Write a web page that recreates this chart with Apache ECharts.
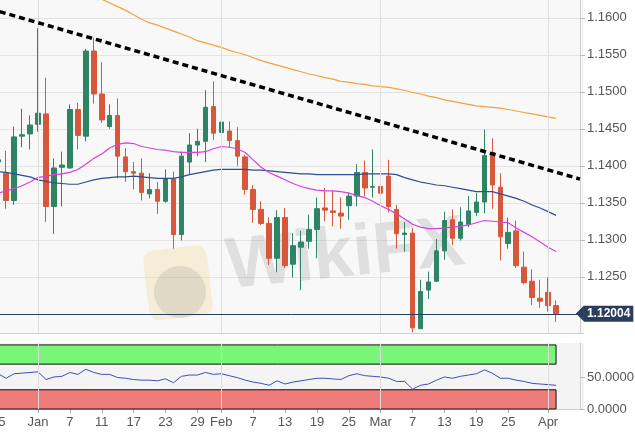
<!DOCTYPE html>
<html><head><meta charset="utf-8">
<script src="https://cdn.jsdelivr.net/npm/echarts@6/dist/echarts.min.js"></script>
<style>html,body{margin:0;padding:0;background:#fff}#c{width:635px;height:432px}</style>
</head><body><div id="c"></div>
<script>
// ---- data ----
const dates = ['2018-12-24','2018-12-25','2018-12-26','2018-12-27','2018-12-28','2018-12-31',
 '2019-01-01','2019-01-02','2019-01-03','2019-01-04','2019-01-07','2019-01-08','2019-01-09','2019-01-10','2019-01-11',
 '2019-01-14','2019-01-15','2019-01-16','2019-01-17','2019-01-18','2019-01-21','2019-01-22','2019-01-23','2019-01-24','2019-01-25',
 '2019-01-28','2019-01-29','2019-01-30','2019-01-31','2019-02-01','2019-02-04','2019-02-05','2019-02-06','2019-02-07','2019-02-08',
 '2019-02-11','2019-02-12','2019-02-13','2019-02-14','2019-02-15','2019-02-18','2019-02-19','2019-02-20','2019-02-21','2019-02-22',
 '2019-02-25','2019-02-26','2019-02-27','2019-02-28','2019-03-01','2019-03-04','2019-03-05','2019-03-06','2019-03-07','2019-03-08',
 '2019-03-11','2019-03-12','2019-03-13','2019-03-14','2019-03-15','2019-03-18','2019-03-19','2019-03-20','2019-03-21','2019-03-22',
 '2019-03-25','2019-03-26','2019-03-27','2019-03-28','2019-03-29','2019-04-01','2019-04-02'];
const futureDates = ['2019-04-03','2019-04-04','2019-04-05'];

const open = [1.1372,1.1405,1.1390,1.1353,1.1440,1.1443,
 1.1456,1.1470,1.1345,1.1398,1.1397,1.1476,1.1440,1.1555,1.1497,
 1.1453,1.1468,1.1412,1.1392,1.1390,1.1362,1.1368,1.1352,1.1382,1.1307,
 1.1405,1.1428,1.1433,1.1480,1.1445,1.1447,1.1434,1.1412,1.1368,1.1341,
 1.1322,1.1275,1.1330,1.1267,1.1290,1.1298,1.1314,1.1343,1.1339,1.1336,
 1.1346,1.1359,1.1391,1.1371,1.1372,1.1386,1.1341,1.1307,1.1309,1.1180,
 1.1232,1.1244,1.1285,1.1327,1.1302,1.1321,1.1337,1.1351,1.1418,1.1371,
 1.1295,1.1312,1.1263,1.1244,1.1221,1.1229,1.1211];
const high = [1.1415,1.1412,1.1420,1.1453,1.1477,1.1468,
 1.1586,1.1519,1.1410,1.1419,1.1483,1.1485,1.1558,1.1573,1.1540,
 1.1483,1.1491,1.1424,1.1405,1.1410,1.1390,1.1378,1.1395,1.1392,1.1419,
 1.1444,1.1450,1.1502,1.1514,1.1487,1.1460,1.1452,1.1415,1.1374,1.1352,
 1.1330,1.1340,1.1343,1.1309,1.1312,1.1334,1.1357,1.1370,1.1366,1.1357,
 1.1364,1.1402,1.1407,1.1422,1.1408,1.1408,1.1347,1.1324,1.1316,1.1246,
 1.1257,1.1301,1.1338,1.1341,1.1344,1.1359,1.1363,1.1449,1.1437,1.1390,
 1.1330,1.1326,1.1284,1.1260,1.1246,1.1249,1.1218];
const low = [1.1365,1.1400,1.1342,1.1347,1.1425,1.1422,
 1.1446,1.1324,1.1308,1.1345,1.1396,1.1422,1.1433,1.1484,1.1458,
 1.1450,1.1383,1.1378,1.1368,1.1353,1.1356,1.1335,1.1350,1.1288,1.1299,
 1.1389,1.1413,1.1405,1.1435,1.1435,1.1424,1.1400,1.1361,1.1323,1.1320,
 1.1266,1.1256,1.1262,1.1249,1.1232,1.1288,1.1275,1.1325,1.1318,1.1315,
 1.1327,1.1345,1.1359,1.1357,1.1352,1.1337,1.1288,1.1284,1.1175,1.1179,
 1.1220,1.1243,1.1273,1.1293,1.1299,1.1317,1.1332,1.1336,1.1342,1.1272,
 1.1288,1.1262,1.1240,1.1212,1.1208,1.1203,1.1189];
const close = [1.1405,1.1408,1.1353,1.1439,1.1442,1.1455,
 1.1471,1.1345,1.1397,1.1401,1.1476,1.1441,1.1555,1.1497,1.1462,
 1.1468,1.1413,1.1392,1.1390,1.1364,1.1368,1.1352,1.1382,1.1307,1.1413,
 1.1428,1.1433,1.1479,1.1444,1.1459,1.1434,1.1413,1.1368,1.1341,1.1322,
 1.1275,1.1330,1.1265,1.1292,1.1297,1.1314,1.1342,1.1340,1.1337,1.1332,
 1.1359,1.1391,1.1370,1.1372,1.1363,1.1345,1.1308,1.1309,1.1181,1.1230,
 1.1243,1.1285,1.1326,1.1302,1.1324,1.1339,1.1351,1.1414,1.1374,1.1304,
 1.1310,1.1265,1.1242,1.1222,1.1217,1.1211,1.1200];

const ma200 = [1.1700,1.1695,1.1690,1.1685,1.1680,1.1675,
 1.1668,1.1662,1.1657,1.1651,1.1646,1.1640,1.1635,1.1629,1.1625,1.1620,
 1.1615,1.1610,1.1604,1.1598,1.1593,1.1590,1.1586,1.1582,1.1578,1.1574,
 1.1569,1.1566,1.1563,1.1560,1.1556,1.1553,1.1550,1.1546,1.1542,1.1539,
 1.1536,1.1533,1.1530,1.1527,1.1524,1.1522,1.1519,1.1517,1.1514,1.1513,
 1.1511,1.1510,1.1508,1.1507,1.1506,1.1504,1.1502,1.1499,1.1497,1.1494,
 1.1492,1.1489,1.1487,1.1485,1.1483,1.1481,1.1480,1.1479,1.1478,1.1476,
 1.1474,1.1472,1.1470,1.1468,1.1466,1.1464];
const ma100 = [1.1394,1.1392,1.1391,1.1389,1.1387,1.1385,
 1.1381,1.1379,1.1377,1.1376,1.1375,1.1375,1.1378,1.1381,1.1383,1.1384,
 1.1385,1.1385,1.1386,1.1385,1.1384,1.1383,1.1383,1.1383,1.1385,1.1388,
 1.1390,1.1392,1.1394,1.1395,1.1395,1.1395,1.1395,1.1394,1.1394,1.1393,
 1.1392,1.1391,1.1390,1.1389,1.1389,1.1388,1.1388,1.1388,1.1388,1.1388,
 1.1388,1.1389,1.1389,1.1389,1.1389,1.1388,1.1384,1.1381,1.1378,1.1376,
 1.1374,1.1373,1.1371,1.1369,1.1367,1.1365,1.1365,1.1365,1.1362,1.1359,
 1.1356,1.1352,1.1347,1.1343,1.1338,1.1333];
const ma20 = [1.1360,1.1363,1.1366,1.1369,1.1373,1.1378,
 1.1384,1.1386,1.1388,1.1389,1.1391,1.1395,1.1402,1.1410,1.1416,1.1424,
 1.1429,1.1431,1.1430,1.1426,1.1424,1.1422,1.1421,1.1419,1.1418,1.1418,
 1.1418,1.1419,1.1423,1.1426,1.1425,1.1423,1.1418,1.1408,1.1398,1.1391,
 1.1386,1.1381,1.1376,1.1372,1.1369,1.1367,1.1366,1.1366,1.1365,1.1363,
 1.1360,1.1357,1.1352,1.1346,1.1341,1.1335,1.1328,1.1321,1.1317,1.1315,
 1.1315,1.1316,1.1317,1.1318,1.1320,1.1323,1.1326,1.1325,1.1324,1.1323,
 1.1316,1.1310,1.1304,1.1297,1.1290,1.1284];
const rsi = [50,55,48,55,56,57,
 58,46,50,51,57,54,62,57,54,54,
 49,48,46,45,45,44,47,41,51,53,
 53,57,54,55,52,49,45,42,40,37,
 44,39,42,44,46,48,48,47,46,52,
 55,52,51,50,48,43,43,31,37,39,
 45,50,48,51,53,55,61,56,48,48,
 45,43,40,39,38,37];

const trendDates = ['2018-12-24','2019-04-05'];
const trendValues = [1.1612, 1.1382];
const lastPrice = 1.12004;
const priceTicks = [1.125,1.13,1.135,1.14,1.145,1.15,1.155,1.16];
const rsiTicks = [0,50];
const rsiBandHigh = [70,100];
const rsiBandLow = [0,30];
const labelDates = ['2018-12-25','2019-01-01','2019-01-07','2019-01-11','2019-01-17','2019-01-23','2019-01-29',
 '2019-02-01','2019-02-07','2019-02-13','2019-02-19','2019-02-25','2019-03-01','2019-03-07','2019-03-13',
 '2019-03-19','2019-03-25','2019-04-01'];
const monthStarts = ['2019-01-01','2019-02-01','2019-03-01','2019-04-01'];
const monthNames = ['Jan','Feb','Mar','Apr','May','Jun','Jul','Aug','Sep','Oct','Nov','Dec'];

// ---- chart ----
const categories = dates.concat(futureDates);
const candles = dates.map((d,i)=>[open[i], close[i], low[i], high[i]]);
const labelSet = new Set(labelDates);
const showLabel = (idx, val) => labelSet.has(val);
const fmtDate = v => { const p = v.split('-'); return p[2]==='01' ? monthNames[+p[1]-1] : String(+p[2]); };
const isTick = (v, arr) => arr.some(t => Math.abs(t - v) < 1e-7);

const catW = 7.97;
const gLeft = 38 - 6.5*catW;
const gWidth = categories.length*catW;
const gRight = 635 - (gLeft + gWidth);
const axisOffset = 580 - (gLeft + gWidth);
const GREEN = '#2e8464', RED = '#d6573c', NAVY = '#2b3d5c';

const chart = echarts.init(document.getElementById('c'), null, {renderer:'canvas'});
chart.setOption({
  animation:false,
  backgroundColor:'#ffffff',
  textStyle:{fontFamily:'"Liberation Sans", Arial, sans-serif'},
  grid:[
    {right:gRight, width:gWidth, top:0, height:333, outerBoundsMode:'none', containLabel:false,
     show:true, backgroundColor:'#f8f8f8', borderWidth:0},
    {right:gRight, width:gWidth, top:343, height:66, outerBoundsMode:'none', containLabel:false,
     show:true, backgroundColor:'#f4f4f4', borderWidth:0}
  ],
  xAxis:[
    {gridIndex:0, type:'category', data:categories, boundaryGap:true,
     axisLine:{show:true, lineStyle:{color:'#cfcfcf'}}, axisTick:{show:false}, axisLabel:{show:false}, splitLine:{show:false}},
    {gridIndex:1, type:'category', data:categories, boundaryGap:true,
     axisLine:{show:true, lineStyle:{color:'#cfcfcf'}},
     axisTick:{show:true, alignWithLabel:true, interval:showLabel, length:4, lineStyle:{color:'#aaa'}},
     axisLabel:{show:true, interval:showLabel, formatter:fmtDate, color:'#555', fontSize:13, margin:7},
     splitLine:{show:false}}
  ],
  yAxis:[
    {gridIndex:0, type:'value', position:'right', offset:axisOffset, min:1.1174, max:1.1624, splitNumber:9,
     axisLine:{show:true, lineStyle:{color:'#cfcfcf'}},
     axisTick:{show:true, length:5, lineStyle:{color:'#bbb'}, customValues:priceTicks},
     axisLabel:{color:'#555', fontSize:13, margin:7, customValues:priceTicks,
       formatter:v => isTick(v, priceTicks) ? v.toFixed(4) : ''},
     splitLine:{show:true, lineStyle:{color:'#e3e3e3'}}},
    {gridIndex:1, type:'value', position:'right', offset:axisOffset, min:0, max:103,
     axisLine:{show:true, lineStyle:{color:'#cfcfcf'}},
     axisTick:{show:true, length:5, lineStyle:{color:'#bbb'}, customValues:rsiTicks},
     axisLabel:{color:'#555', fontSize:13, margin:7, customValues:rsiTicks,
       formatter:v => isTick(v, rsiTicks) ? v.toFixed(4) : ''},
     splitLine:{show:false}}
  ],
  graphic:[
    {type:'rect', x:142, y:252, rotation:0.12, z:1, shape:{x:0,y:0,width:64,height:70,r:10}, style:{fill:'rgba(238,215,140,0.32)'}},
    {type:'circle', z:1, shape:{cx:180, cy:292, r:26}, style:{fill:'rgba(110,110,120,0.16)'}},
    {type:'text', x:230, y:304, rotation:0.1, z:1, style:{text:'WikiFX', font:'bold 72px "Liberation Sans", Arial', fill:'rgba(150,150,150,0.26)', verticalAlign:'bottom'}}
  ],
  series:[
    {type:'line', xAxisIndex:0, yAxisIndex:0, data:[], z:1, silent:true,
     markLine:{silent:true, symbol:'none', animation:false, label:{show:false},
       lineStyle:{color:'#dddddd', width:1, type:'solid'}, data:monthStarts.map(d=>({xAxis:d}))}},
    {type:'candlestick', xAxisIndex:0, yAxisIndex:0, data:candles, barWidth:5, z:3,
     itemStyle:{color:GREEN, color0:RED, borderColor:GREEN, borderColor0:RED, borderWidth:1},
     markLine:{silent:true, symbol:'none', animation:false,
       lineStyle:{color:NAVY, width:1, type:'solid'},
       label:{show:true, position:'end', distance:0, formatter:()=>lastPrice.toFixed(5), color:'#fff',
         fontWeight:'bold', fontSize:12, lineHeight:13, backgroundColor:NAVY, padding:[2,3,1,3]},
       data:[{yAxis:lastPrice}]},
     markPoint:{silent:true, animation:false, symbol:'triangle', symbolSize:[16,8], symbolRotate:90,
       label:{show:false}, itemStyle:{color:NAVY},
       data:[{coord:[futureDates[futureDates.length-1], lastPrice]}]}},
    {type:'line', xAxisIndex:0, yAxisIndex:0, data:ma200, showSymbol:false, z:4,
     lineStyle:{color:'#f2a33a', width:1.2}},
    {type:'line', xAxisIndex:0, yAxisIndex:0, data:ma100, showSymbol:false, z:4,
     lineStyle:{color:'#2f4f8c', width:1.2}},
    {type:'line', xAxisIndex:0, yAxisIndex:0, data:ma20, showSymbol:false, z:4,
     lineStyle:{color:'#d93fdc', width:1.2}},
    {type:'line', xAxisIndex:0, yAxisIndex:0, data:trendDates.map((d,i)=>[d, trendValues[i]]), showSymbol:false, z:6,
     lineStyle:{color:'#000', width:3.5, type:[6,4]}},
    {type:'line', xAxisIndex:1, yAxisIndex:1, data:[], z:1, silent:true,
     markLine:{silent:true, symbol:'none', animation:false, label:{show:false},
       lineStyle:{color:'#dddddd', width:1, type:'solid'}, data:monthStarts.map(d=>({xAxis:d}))}},
    {type:'line', xAxisIndex:1, yAxisIndex:1, data:[], z:2, silent:true,
     markArea:{silent:true, animation:false,
       data:[
         [{xAxis:dates[0], yAxis:rsiBandHigh[0], itemStyle:{color:'#79f577', borderColor:'#111', borderWidth:1}}, {xAxis:dates[dates.length-1], yAxis:rsiBandHigh[1]}],
         [{xAxis:dates[0], yAxis:rsiBandLow[0], itemStyle:{color:'#f07b7b', borderColor:'#111', borderWidth:1}}, {xAxis:dates[dates.length-1], yAxis:rsiBandLow[1]}]
       ]}},
    {type:'line', xAxisIndex:1, yAxisIndex:1, data:rsi, showSymbol:false, z:3,
     lineStyle:{color:'#3d4fb8', width:1}}
  ]
});
</script>
</body></html>
